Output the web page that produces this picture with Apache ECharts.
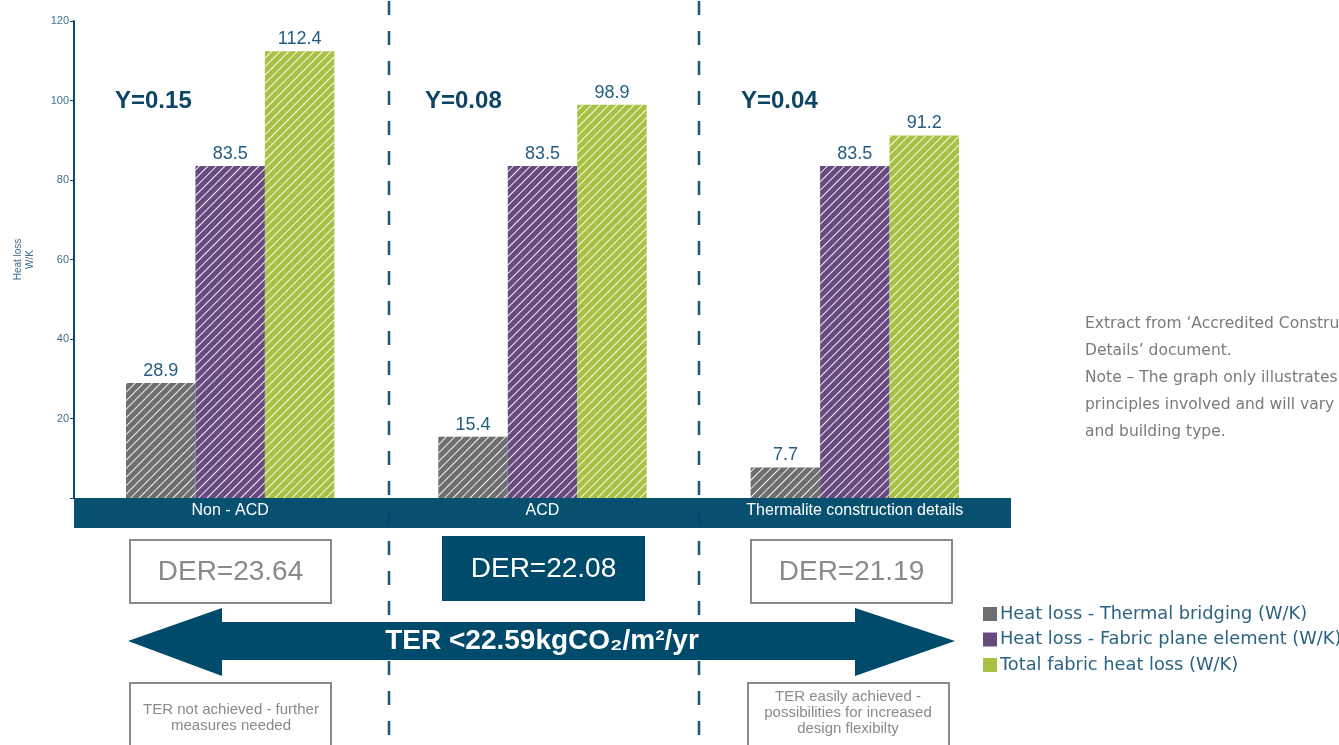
<!DOCTYPE html>
<html><head><meta charset="utf-8">
<script src="https://cdn.jsdelivr.net/npm/echarts@6/dist/echarts.min.js"></script>
<style>html,body{margin:0;padding:0;background:#fff}#c{width:1339px;height:745px}</style>
</head><body><div id="c"></div>
<script>
var categories = ['Non - ACD', 'ACD', 'Thermalite construction details'];
var seriesNames = ['Heat loss - Thermal bridging (W/K)', 'Heat loss - Fabric plane element (W/K)', 'Total fabric heat loss (W/K)'];
var thermalBridging = [28.9, 15.4, 7.7];
var fabricPlane = [83.5, 83.5, 83.5];
var totalFabric = [112.4, 98.9, 91.2];
var yLabels = ['Y=0.15', 'Y=0.08', 'Y=0.04'];
var derLabels = ['DER=23.64', 'DER=22.08', 'DER=21.19'];
var yTicks = [0, 20, 40, 60, 80, 100, 120];

var colors = ['#6d6e70', '#664a80', '#a9c142'];
var navy = '#004a6b';
var font = 'Liberation Sans';
var wide = 'DejaVu Sans';

var chart = echarts.init(document.getElementById('c'));
function decal() {
  return { symbol: 'rect', symbolSize: 1, dashArrayX: [1, 0], dashArrayY: [1, 4.4], rotation: -Math.PI / 4, color: 'rgba(255,255,255,0.9)' };
}
function mk(name, data, i) {
  return {
    name: name, type: 'bar', data: data, barGap: '0%', barCategoryGap: '33.3%', z: 3,
    itemStyle: { color: colors[i], decal: decal() },
    label: { show: true, position: 'top', distance: 3, color: '#215e82', fontSize: 18, fontFamily: font,
      formatter: function (p) { return p.value.toFixed(1); } }
  };
}
var G = [];
// dashed dividers
[389, 699].forEach(function (x) {
  G.push({ type: 'line', shape: { x1: x, y1: 1, x2: x, y2: 745 }, style: { stroke: '#1d5577', lineWidth: 2.5, lineDash: [14, 16] }, z: 0 });
});
// x axis band
G.push({ type: 'rect', shape: { x: 74, y: 498, width: 937, height: 30 }, style: { fill: navy, opacity: 0.97 }, z: 1 });
// Y= labels
var yX = [115, 425, 741];
yLabels.forEach(function (t, i) {
  G.push({ type: 'text', x: yX[i], y: 101, style: { text: t, fill: '#0d4566', font: 'bold 24px ' + font, textVerticalAlign: 'middle' }, z: 5 });
});
// DER boxes
var derX = [130, 443, 751], derY = [540, 537, 540];
derLabels.forEach(function (t, i) {
  var filled = i === 1;
  G.push({ type: 'rect', shape: { x: derX[i], y: derY[i], width: 201, height: 63 },
    style: { fill: filled ? navy : '#fff', stroke: filled ? navy : '#8a8a8a', lineWidth: 2 }, z: 5 });
  G.push({ type: 'text', x: derX[i] + 100.5, y: derY[i] + 32, style: { text: t, fill: filled ? '#fff' : '#8a8a8a',
    font: '28px ' + font, textAlign: 'center', textVerticalAlign: 'middle' }, z: 6 });
});
// arrow
G.push({ type: 'polygon', shape: { points: [[128, 641], [222, 608], [222, 622], [855, 622], [855, 608], [955, 641], [855, 676], [855, 660], [222, 660], [222, 676]] },
  style: { fill: navy }, z: 5 });
G.push({ type: 'text', x: 542, y: 641, style: { text: 'TER <22.59kgCO\u2082/m\u00b2/yr', fill: '#fff', font: 'bold 28px ' + font, textAlign: 'center', textVerticalAlign: 'middle' }, z: 6 });
// bottom boxes
G.push({ type: 'rect', shape: { x: 130, y: 683, width: 201, height: 80 }, style: { fill: '#fff', stroke: '#8a8a8a', lineWidth: 2 }, z: 5 });
G.push({ type: 'text', x: 231, y: 718, style: { text: 'TER not achieved - further\nmeasures needed', fill: '#8a8a8a', font: '15px ' + font, textAlign: 'center', textVerticalAlign: 'middle', lineHeight: 16 }, z: 6 });
G.push({ type: 'rect', shape: { x: 748, y: 683, width: 201, height: 80 }, style: { fill: '#fff', stroke: '#8a8a8a', lineWidth: 2 }, z: 5 });
G.push({ type: 'text', x: 848, y: 713, style: { text: 'TER easily achieved -\npossibilities for increased\ndesign flexibilty', fill: '#8a8a8a', font: '15px ' + font, textAlign: 'center', textVerticalAlign: 'middle', lineHeight: 16 }, z: 6 });
// note
G.push({ type: 'text', x: 1085, y: 310, style: { text: 'Extract from \u2018Accredited Construction\nDetails\u2019 document.\nNote \u2013 The graph only illustrates the\nprinciples involved and will vary with dwelling\nand building type.', fill: '#7a7a7a', font: '15.5px ' + wide, lineHeight: 27 }, z: 5 });

chart.setOption({
  animation: false,
  color: colors,
  grid: { left: 74, right: 328, top: 21, bottom: 247, containLabel: false, outerBoundsMode: 'none' },
  legend: {
    orient: 'vertical', left: 983, top: 605, padding: 0, itemWidth: 14, itemHeight: 14, itemGap: 7.5, icon: 'rect',
    itemStyle: { decal: 'none' },
    textStyle: { color: '#2b6383', fontSize: 17.8, fontFamily: wide, padding: [0, 0, 0, -2] },
    data: seriesNames
  },
  xAxis: {
    type: 'category', data: categories,
    axisLine: { show: false }, axisTick: { show: false },
    axisLabel: { color: '#fff', fontSize: 16, fontFamily: font, margin: 5 }, z: 6
  },
  yAxis: {
    type: 'value', min: 0, max: 120, interval: 20,
    name: 'Heat loss\nW/K', nameLocation: 'middle', nameGap: 38,
    nameTextStyle: { color: '#3f6e8e', fontSize: 10, fontFamily: font, lineHeight: 12 },
    axisLine: { show: true, lineStyle: { color: '#0d4a6b', width: 2 } },
    axisTick: { show: true, length: 4, lineStyle: { color: '#0d4a6b' } },
    splitLine: { show: false },
    axisLabel: { color: '#3f6e8e', fontSize: 11, fontFamily: font, margin: 5,
      formatter: function (v) { return v === yTicks[0] ? '' : String(v); } }
  },
  series: [mk(seriesNames[0], thermalBridging, 0), mk(seriesNames[1], fabricPlane, 1), mk(seriesNames[2], totalFabric, 2)],
  graphic: G
});
</script></body></html>
